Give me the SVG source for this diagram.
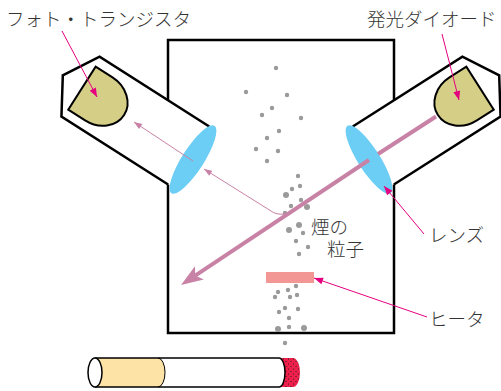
<svg xmlns="http://www.w3.org/2000/svg" width="501" height="391" viewBox="0 0 501 391">
  <style>
    .frame { fill: none; stroke: #000; stroke-width: 2.5; stroke-linejoin: miter; }
    .tube { fill: none; stroke: #000; stroke-width: 2.5; stroke-linejoin: miter; }
    .dome { fill: #d5ce86; stroke: #000; stroke-width: 2; }
    .lens { fill: #6ccef5; }
    .dot { fill: #9a9a9a; }
    .label { font-family: "Noto Sans CJK JP", "Noto Sans", sans-serif; font-size: 18.5px; font-weight: 300; fill: #333; }
    .leader { fill: none; stroke: #e5007f; stroke-width: 1; marker-end: url(#arrowLead); }
    .beam { fill: none; stroke: #c882a5; stroke-width: 4; }
    .scatter { fill: none; stroke: #c882a5; stroke-width: 1; }
    .outline { fill: none; stroke: #000; stroke-width: 1.5; }
  </style>
  <defs>
    <marker id="arrowLead" markerUnits="userSpaceOnUse" markerWidth="12" markerHeight="10" refX="9" refY="3.5" orient="auto" overflow="visible">
      <path d="M0,0 L9,3.5 L0,7 Z" fill="#e5007f"/>
    </marker>
    <marker id="arrowThin" markerUnits="userSpaceOnUse" markerWidth="10" markerHeight="8" refX="8" refY="3" orient="auto" overflow="visible">
      <path d="M0,0 L8,3 L0,6 Z" fill="#c882a5"/>
    </marker>
    <marker id="arrowBeam" markerUnits="userSpaceOnUse" markerWidth="24" markerHeight="18" refX="5" refY="0" orient="auto" overflow="visible">
      <path d="M0,-8 L22,0 L0,8 L5,0 Z" fill="#c882a5"/>
    </marker>
    <pattern id="stipple" patternUnits="userSpaceOnUse" width="5" height="5">
      <circle cx="1" cy="1.5" r="0.55" fill="#1a1a1a"/>
      <circle cx="3.5" cy="4" r="0.55" fill="#1a1a1a"/>
    </pattern>
  </defs>

  <!-- smoke chamber -->
  <g id="chamber">
    <path class="frame" d="M168,100.3 V40 H394 V100.3"/>
    <path class="frame" d="M168,184.5 V333 H394 V184.5"/>
  </g>

  <!-- receiver side: photo transistor in its tube -->
  <g id="photo-transistor" transform="translate(193,159.5) rotate(32.5)">
    <polyline class="tube" points="-4,-36.5 -134,-36.5 -155,-1 -134,34.5 -7.5,34.5"/>
    <path class="dome" d="M-132,-26 L-112,-26 A30,25.5 0 0 1 -112,25 L-132,25 Z"/>
  </g>
  <g id="lens-left">
    <ellipse class="lens" cx="193" cy="159.5" rx="11" ry="40" transform="rotate(32.5 193 159.5)"/>
  </g>

  <!-- emitter side: LED in its tube -->
  <g id="led" transform="translate(369,159.5) scale(-1,1) rotate(32.5)">
    <polyline class="tube" points="-4,-36.5 -134,-36.5 -155,-1 -134,34.5 -7.5,34.5"/>
    <path class="dome" d="M-132,-26 L-112,-26 A30,25.5 0 0 1 -112,25 L-132,25 Z"/>
  </g>
  <g id="lens-right">
    <ellipse class="lens" cx="369" cy="159.5" rx="11" ry="40" transform="rotate(-32.5 369 159.5)"/>
  </g>

  <!-- heater -->
  <g id="heater">
    <rect x="266" y="272" width="48" height="11" fill="#f29793"/>
  </g>

  <!-- smoke particles -->
  <g id="smoke">
    <g class="dot">
      <circle cx="276" cy="68" r="2.2"/>
      <circle cx="246" cy="92" r="2.2"/>
      <circle cx="287" cy="95" r="2.2"/>
      <circle cx="272" cy="108" r="2.2"/>
      <circle cx="262" cy="115" r="2.2"/>
      <circle cx="301" cy="118" r="2.2"/>
      <circle cx="279" cy="131" r="2.2"/>
      <circle cx="267" cy="138" r="2.2"/>
      <circle cx="256" cy="149" r="2.2"/>
      <circle cx="278" cy="151" r="2.2"/>
      <circle cx="267" cy="161" r="2.2"/>
      <circle cx="298" cy="176" r="2.2"/>
      <circle cx="300" cy="186" r="2.2"/>
      <circle cx="292" cy="189" r="2.2"/>
      <circle cx="286" cy="195" r="3"/>
      <circle cx="301" cy="200" r="2.2"/>
      <circle cx="291" cy="206" r="2.2"/>
      <circle cx="307" cy="207" r="3"/>
      <circle cx="285" cy="213" r="2.2"/>
      <circle cx="299" cy="225" r="3"/>
      <circle cx="289" cy="230" r="3"/>
      <circle cx="303" cy="233" r="2.2"/>
      <circle cx="296" cy="241" r="2.2"/>
      <circle cx="308" cy="247" r="2.2"/>
      <circle cx="299" cy="254" r="2.2"/>
      <circle cx="296" cy="286" r="2.2"/>
      <circle cx="288" cy="290" r="2.2"/>
      <circle cx="278" cy="292" r="2.2"/>
      <circle cx="275" cy="297" r="2.2"/>
      <circle cx="290" cy="297" r="2.2"/>
      <circle cx="297" cy="295" r="2.2"/>
      <circle cx="285" cy="308" r="2.2"/>
      <circle cx="298" cy="309" r="2.2"/>
      <circle cx="279" cy="312" r="2.2"/>
      <circle cx="289" cy="318" r="2.2"/>
      <circle cx="278" cy="329" r="3"/>
      <circle cx="289" cy="327" r="2.2"/>
      <circle cx="304" cy="328" r="3"/>
      <circle cx="285" cy="343" r="2.2"/>
    </g>
  </g>

  <!-- cigarette -->
  <g id="cigarette">
    <path d="M280,358 H293 A7,14.5 0 0 1 293,387 H280 Z" fill="#ee1f4b"/>
    <path d="M280,358 H293 A7,14.5 0 0 1 293,387 H280 Z" fill="url(#stipple)"/>
    <path d="M95,358 H279 A6,14.5 0 0 1 279,387 H95 Z" fill="#fff"/>
    <path d="M95,358 H158 A7,14.5 0 0 1 158,387 H95 Z" fill="#fde3a6"/>
    <path class="outline" d="M95,358 H279 A6,14.5 0 0 1 279,387 H95"/>
    <path d="M158,358 A7,14.5 0 0 1 158,387" fill="none" stroke="#000" stroke-width="1"/>
    <ellipse cx="95" cy="372.5" rx="7" ry="14.5" fill="#fff" stroke="#000" stroke-width="1.5"/>
  </g>

  <!-- labels -->
  <g id="label-photo-transistor"><text class="label" x="6" y="26">フォト・トランジスタ</text></g>
  <g id="label-led"><text class="label" x="367" y="26">発光ダイオード</text></g>
  <g id="label-lens"><text class="label" x="429" y="242">レンズ</text></g>
  <g id="label-heater"><text class="label" x="429" y="326">ヒータ</text></g>
  <g id="label-smoke"><text class="label" x="311" y="234">煙の</text><text class="label" x="327" y="256">粒子</text></g>

  <!-- connectors: light paths and leader lines -->
  <g id="connectors">
    <path class="beam" d="M436,116.5 L378,154"/>
    <path class="beam" d="M369,160 L195.2,275.6" marker-end="url(#arrowBeam)"/>
    <path class="scatter" d="M285,214 Q276,215 271,211 L204,169" marker-end="url(#arrowThin)"/>
    <path class="scatter" d="M193,161 L134,122" marker-end="url(#arrowThin)"/>
    <path class="leader" d="M62,31 L97,97"/>
    <path class="leader" d="M442,34 L459,100"/>
    <path class="leader" d="M424,234 L384,186"/>
    <path class="leader" d="M427,317 L314,278"/>
  </g>
</svg>
